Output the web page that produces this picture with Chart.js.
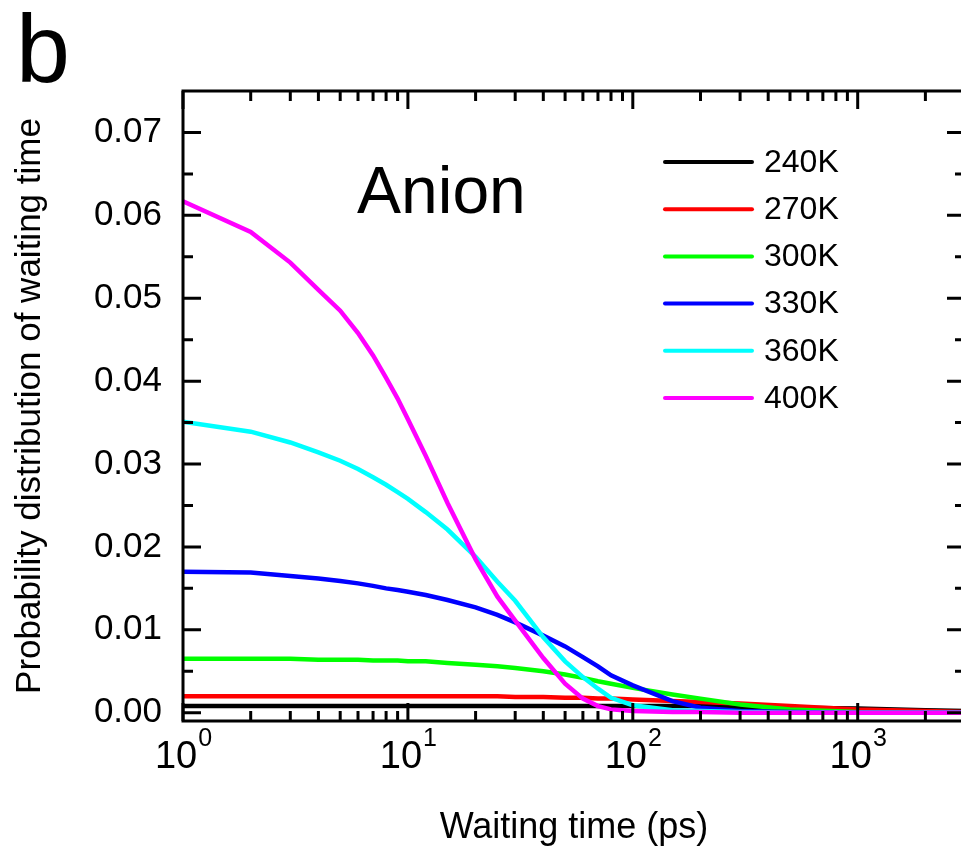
<!DOCTYPE html>
<html>
<head>
<meta charset="utf-8">
<script src="https://cdn.jsdelivr.net/npm/chart.js@4.4.1/dist/chart.umd.min.js"></script>
<style>
  html, body { margin: 0; padding: 0; background: #fff; overflow: hidden; }
  #wrap { width: 961px; height: 847px; overflow: hidden; }
</style>
</head>
<body>
<div id="wrap"><canvas id="chart" width="980" height="847"></canvas></div>
<script>
const waitTimes = [1, 2, 3, 4, 5, 6, 7, 8, 9, 10, 12, 15, 20, 25, 30, 40, 50, 60, 70, 80, 100, 150, 200, 300, 500, 1000, 2000, 3000];

// Probability distribution for each temperature
const p240 = [0.0008, 0.0008, 0.0008, 0.0008, 0.0008, 0.0008, 0.0008, 0.0008, 0.0008, 0.0008, 0.0008, 0.0008, 0.0008, 0.0008, 0.0008, 0.0008, 0.0008, 0.0008, 0.0008, 0.0008, 0.0008, 0.0008, 0.0008, 0.0007, 0.0006, 0.0005, 0.0003, 0.0002];
const p270 = [0.0020, 0.0020, 0.0020, 0.0020, 0.0020, 0.0020, 0.0020, 0.0020, 0.0020, 0.0020, 0.0020, 0.0020, 0.0020, 0.0020, 0.0019, 0.0019, 0.0018, 0.0018, 0.0017, 0.0017, 0.0016, 0.0014, 0.0013, 0.0011, 0.0008, 0.0004, 0.0002, 0.0001];
const p300 = [0.0065, 0.0065, 0.0065, 0.0064, 0.0064, 0.0064, 0.0063, 0.0063, 0.0063, 0.0062, 0.0062, 0.0060, 0.0058, 0.0056, 0.0054, 0.0050, 0.0046, 0.0042, 0.0038, 0.0035, 0.0030, 0.0022, 0.0017, 0.0010, 0.0004, 0.0001, 0.0000, 0.0000];
const p330 = [0.0170, 0.0169, 0.0165, 0.0162, 0.0159, 0.0156, 0.0153, 0.0150, 0.0148, 0.0146, 0.0142, 0.0136, 0.0127, 0.0118, 0.0109, 0.0093, 0.0080, 0.0067, 0.0056, 0.0045, 0.0033, 0.0014, 0.0006, 0.0002, 0.0001, 0.0000, 0.0000, 0.0000];
const p360 = [0.0351, 0.0339, 0.0326, 0.0314, 0.0304, 0.0294, 0.0284, 0.0275, 0.0266, 0.0258, 0.0242, 0.0221, 0.0188, 0.0158, 0.0135, 0.0091, 0.0062, 0.0043, 0.0029, 0.0018, 0.0009, 0.0003, 0.0002, 0.0001, 0.0000, 0.0000, 0.0000, 0.0000];
const p400 = [0.0617, 0.0580, 0.0543, 0.0510, 0.0485, 0.0458, 0.0431, 0.0404, 0.0379, 0.0354, 0.0310, 0.0253, 0.0185, 0.0140, 0.0111, 0.0066, 0.0035, 0.0017, 0.0008, 0.0004, 0.0002, 0.0001, 0.0001, 0.0000, 0.0000, 0.0000, 0.0000, 0.0000];

const seriesLabels = ['240K', '270K', '300K', '330K', '360K', '400K'];
const seriesValues = [p240, p270, p300, p330, p360, p400];
const seriesColors = ['#000000', '#ff0000', '#00ff00', '#0000ff', '#00ffff', '#ff00ff'];

const xTickValues = [1, 10, 100, 1000];
const yTickValues = [0, 0.01, 0.02, 0.03, 0.04, 0.05, 0.06, 0.07];

const FONT = "'Liberation Sans', Arial, sans-serif";

// Frame, inward ticks, power-of-ten labels, legend and panel texts
const framePlugin = {
    id: 'frame',
    afterDraw(chart) {
        const { ctx, chartArea: a, scales: { x, y } } = chart;
        ctx.save();
        ctx.strokeStyle = '#000';
        ctx.lineWidth = 3;
        ctx.strokeRect(a.left, a.top, a.right - a.left, a.bottom - a.top);

        ctx.beginPath();
        for (let d = 1; d <= 1000; d *= 10) {
            for (let k = 1; k <= 9; k++) {
                const v = k * d;
                if (v > 3000) break;
                const px = x.getPixelForValue(v);
                const len = k === 1 ? 18 : 10;
                ctx.moveTo(px, a.bottom);
                ctx.lineTo(px, a.bottom - len);
                ctx.moveTo(px, a.top);
                ctx.lineTo(px, a.top + len);
            }
        }
        for (let i = 0; i <= 15; i++) {
            const py = y.getPixelForValue(i * 0.005);
            if (py < a.top + 3) continue;
            const len = i % 2 === 0 ? 18 : 10;
            ctx.moveTo(a.left, py);
            ctx.lineTo(a.left + len, py);
            ctx.moveTo(a.right, py);
            ctx.lineTo(a.right - len, py);
        }
        ctx.stroke();

        // x tick labels as 10 with a raised exponent
        ctx.fillStyle = '#000';
        ctx.textBaseline = 'alphabetic';
        ctx.textAlign = 'left';
        xTickValues.forEach(v => {
            const exp = String(Math.round(Math.log10(v)));
            ctx.font = '38px ' + FONT;
            const wBase = ctx.measureText('10').width;
            ctx.font = '25px ' + FONT;
            const wExp = ctx.measureText(exp).width;
            const x0 = x.getPixelForValue(v) - (wBase + wExp) / 2;
            ctx.font = '38px ' + FONT;
            ctx.fillText('10', x0, 768);
            ctx.font = '25px ' + FONT;
            ctx.fillText(exp, x0 + wBase + 1, 746);
        });

        // legend
        ctx.lineCap = 'round';
        ctx.lineWidth = 4;
        ctx.font = '32px ' + FONT;
        ctx.textBaseline = 'middle';
        chart.data.datasets.forEach((ds, i) => {
            const ly = 162 + i * 47.2;
            ctx.strokeStyle = ds.borderColor;
            ctx.beginPath();
            ctx.moveTo(665, ly);
            ctx.lineTo(752, ly);
            ctx.stroke();
            ctx.fillText(ds.label, 764, ly + 1);
        });

        ctx.textBaseline = 'alphabetic';
        ctx.font = '66px ' + FONT;
        ctx.fillText('Anion', 357, 213);
        ctx.font = '97px ' + FONT;
        ctx.fillText('b', 16, 82);
        ctx.restore();
    }
};

const datasets = seriesLabels.map((label, i) => ({
    label: label,
    data: waitTimes.map((t, j) => ({ x: t, y: seriesValues[i][j] })),
    borderColor: seriesColors[i],
    backgroundColor: seriesColors[i],
    borderWidth: 4.5,
    pointRadius: 0,
    tension: 0,
    fill: false,
    order: seriesLabels.length - i
}));

new Chart(document.getElementById('chart'), {
    type: 'line',
    data: { datasets: datasets },
    options: {
        responsive: false,
        animation: false,
        devicePixelRatio: 1,
        layout: { padding: { top: 91, right: 15, bottom: 0, left: 0 } },
        scales: {
            x: {
                type: 'logarithmic',
                position: 'bottom',
                min: 1,
                max: 3000,
                grid: { display: false, drawTicks: false },
                border: { display: false },
                afterBuildTicks: s => { s.ticks = xTickValues.map(v => ({ value: v })); },
                afterFit: s => { s.height = 126; },
                ticks: { display: false },
                title: {
                    display: true,
                    text: 'Waiting time (ps)',
                    color: '#000',
                    font: { family: FONT, size: 36, lineHeight: 1 },
                    padding: { top: 0, bottom: 1 }
                }
            },
            y: {
                type: 'linear',
                min: -0.001,
                max: 0.075,
                grid: { display: false, drawTicks: false },
                border: { display: false },
                afterBuildTicks: s => { s.ticks = yTickValues.map(v => ({ value: v })); },
                afterFit: s => { s.width = 183; },
                ticks: {
                    padding: 21,
                    color: '#000',
                    font: { family: FONT, size: 35 },
                    callback: v => Number(v).toFixed(2)
                },
                title: {
                    display: true,
                    text: 'Probability distribution of waiting time',
                    color: '#000',
                    font: { family: FONT, size: 35, lineHeight: 1.2 },
                    padding: { top: 9, bottom: 0 }
                }
            }
        },
        plugins: {
            legend: { display: false },
            tooltip: { enabled: false }
        }
    },
    plugins: [framePlugin]
});
</script>
</body>
</html>
